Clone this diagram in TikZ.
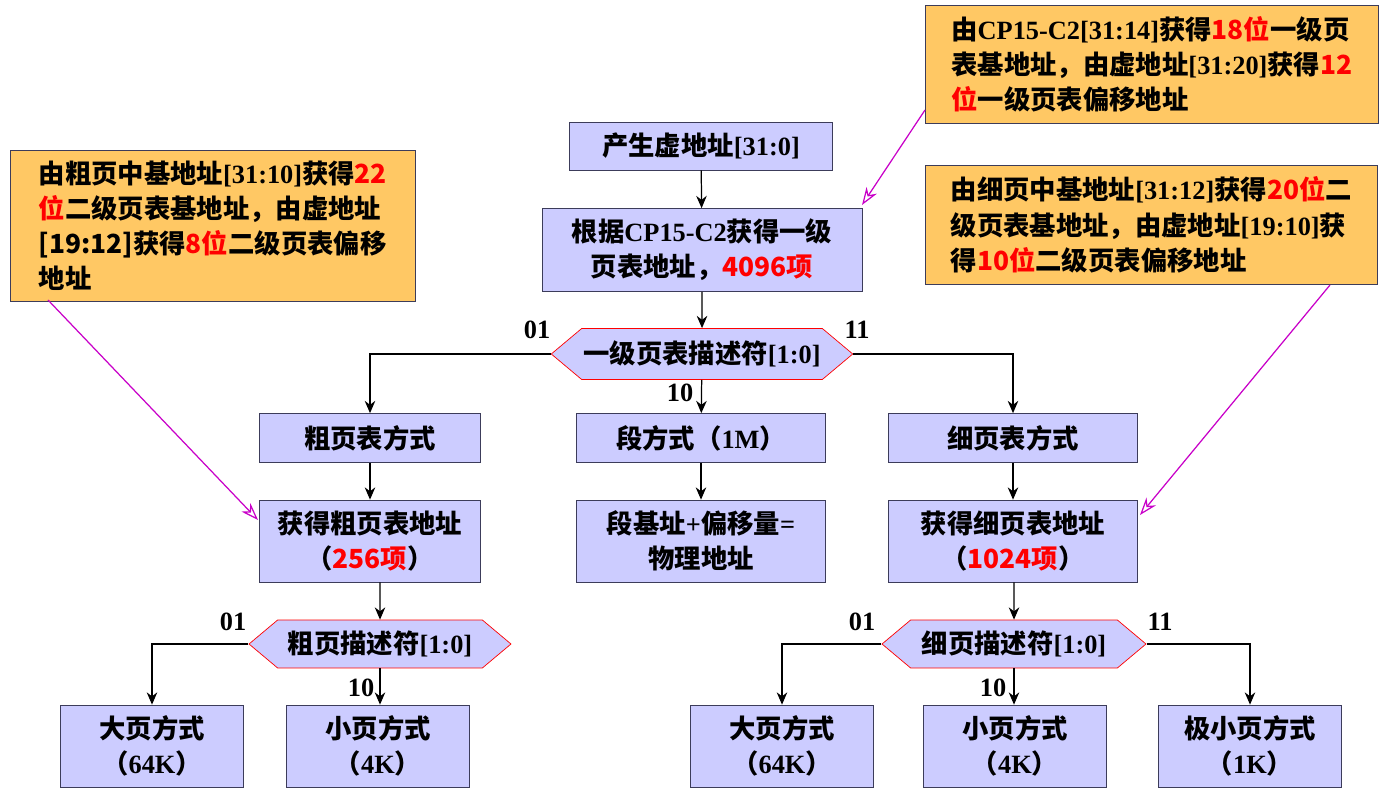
\documentclass[tikz,border=0pt]{standalone}
\usepackage{fontspec}
\setmainfont{Liberation Serif}
\newfontfamily\cjk{Noto Sans CJK SC}
\usetikzlibrary{shapes.symbols,arrows.meta,calc}
\makeatletter
\XeTeXinterchartokenstate=1
\newXeTeXintercharclass\latclass
\count@=`0
\loop\ifnum\count@<`: \XeTeXcharclass\count@=\latclass \advance\count@ 1 \repeat
\count@=`A
\loop\ifnum\count@<`[ \XeTeXcharclass\count@=\latclass \advance\count@ 1 \repeat
\XeTeXcharclass`:=\latclass \XeTeXcharclass`-=\latclass \XeTeXcharclass`+=\latclass
\XeTeXcharclass`==\latclass \XeTeXcharclass`[=\latclass \XeTeXcharclass`]=\latclass
\XeTeXinterchartoks 0 \latclass = {\rmfamily}
\XeTeXinterchartoks 255 \latclass = {\rmfamily}
\XeTeXinterchartoks \latclass 0 = {\cjk}
\XeTeXinterchartoks \latclass 255 = {\cjk}
\makeatother
\definecolor{boxf}{RGB}{204,204,255}
\definecolor{boxd}{RGB}{60,60,90}
\definecolor{org}{RGB}{255,200,100}
\definecolor{mag}{RGB}{200,0,200}
\newcommand{\R}[1]{\textcolor{red}{#1}}
\begin{document}
\begin{tikzpicture}[x=0.02cm,y=-0.02cm,
  font=\fontsize{15}{20}\selectfont\bfseries\cjk,
  box/.style={draw=boxd,fill=boxf,align=center,inner sep=1pt},
  hex/.style={shape=signal,signal to=east and west,signal pointer angle=80,draw=red,fill=boxf,inner sep=1pt},
  call/.style={draw=boxd,fill=org,align=left,inner sep=6pt,anchor=north west},
  arr/.style={-{Stealth[length=7pt,width=6pt]},line width=0.7pt},
  ma/.style={-{Stealth[length=10pt,width=7pt,open]},draw=mag,line width=0.7pt},
  lab/.style={font=\fontsize{15}{19}\selectfont\bfseries\rmfamily}]
\useasboundingbox (0,0) rectangle (1387,797);
\node[box,minimum width=5.26cm,minimum height=0.96cm] (a) at (701,146) {产生虚地址[31:0]};
\node[box,minimum width=6.4cm,minimum height=1.66cm] (b) at (702,250) {根据CP15-C2获得一级\\页表地址，\R{4096项}};
\node[hex,minimum width=5.84cm,minimum height=1.02cm] (h1) at (702,354) {一级页表描述符[1:0]};
\node[box,minimum width=4.42cm,minimum height=0.98cm] (c1) at (370,438) {粗页表方式};
\node[box,minimum width=4.98cm,minimum height=0.98cm] (c2) at (701,438) {段方式（1M）};
\node[box,minimum width=4.98cm,minimum height=0.98cm] (c3) at (1013,438) {细页表方式};
\node[box,minimum width=4.42cm,minimum height=1.64cm] (d1) at (370,541) {获得粗页表地址\\（\R{256项}）};
\node[box,minimum width=4.98cm,minimum height=1.64cm] (d2) at (701,541) {段基址+偏移量=\\物理地址};
\node[box,minimum width=4.98cm,minimum height=1.64cm] (d3) at (1013,541) {获得细页表地址\\（\R{1024项}）};
\node[hex,minimum width=5.24cm,minimum height=0.96cm] (h2) at (380,644) {粗页描述符[1:0]};
\node[hex,minimum width=5.28cm,minimum height=0.96cm] (h3) at (1014,644) {细页描述符[1:0]};
\node[box,minimum width=3.66cm,minimum height=1.64cm] (e1) at (152,746) {大页方式\\（64K）};
\node[box,minimum width=3.66cm,minimum height=1.64cm] (e2) at (378,746) {小页方式\\（4K）};
\node[box,minimum width=3.66cm,minimum height=1.64cm] (e3) at (782,746) {大页方式\\（64K）};
\node[box,minimum width=3.66cm,minimum height=1.64cm] (e4) at (1015,746) {小页方式\\（4K）};
\node[box,minimum width=3.66cm,minimum height=1.64cm] (e5) at (1250,746) {极小页方式\\（1K）};
\node[call,minimum width=8.1cm,minimum height=2.98cm] (L) at (10,150) {由粗页中基地址[31:10]获得\R{22}\\\R{位}二级页表基地址，由虚地址\\{}[19:12]获得\R{8位}二级页表偏移\\地址};
\node[call,minimum width=9.06cm,minimum height=2.36cm] (T) at (925,5) {由CP15-C2[31:14]获得\R{18位}一级页\\表基地址，由虚地址[31:20]获得\R{12}\\\R{位}一级页表偏移地址};
\node[call,minimum width=9.04cm,minimum height=2.38cm] (Rt) at (925,165) {由细页中基地址[31:12]获得\R{20位}二\\级页表基地址，由虚地址[19:10]获\\得\R{10位}二级页表偏移地址};
\draw[arr] (a) -- (b);
\draw[arr] (b) -- (h1);
\draw[arr] (h1.west) -| (c1.north);
\draw[arr] (h1) -- (c2);
\draw[arr] (h1.east) -| (c3.north);
\draw[arr] (c1) -- (d1);
\draw[arr] (c2) -- (d2);
\draw[arr] (c3) -- (d3);
\draw[arr] (d1.south -| h2) -- (h2);
\draw[arr] (d3.south -| h3) -- (h3);
\draw[arr] (h2.west) -| (e1.north);
\draw[arr] (h2.south) -- (h2.south |- e2.north);
\draw[arr] (h3.west) -| (e3.north);
\draw[arr] (h3.south) -- (h3.south |- e4.north);
\draw[arr] (h3.east) -| (e5.north);
\node[lab] (l1) at (537,330) {01};
\node[lab] (l2) at (857,330) {11};
\node[lab] (l3) at (680,393) {10};
\node[lab] (l4) at (233,622) {01};
\node[lab] (l5) at (361,688) {10};
\node[lab] (l6) at (862,622) {01};
\node[lab] (l7) at (993,688) {10};
\node[lab] (l8) at (1160,622) {11};
\coordinate (pL) at (48,300);
\coordinate (qL) at (258,520);
\coordinate (pT) at (925,110);
\coordinate (qT) at (862,205);
\coordinate (pR) at (1330,285);
\coordinate (qR) at (1140,515);
\draw[ma] (pL) -- (qL);
\draw[ma] (pT) -- (qT);
\draw[ma] (pR) -- (qR);
\end{tikzpicture}
\end{document}
